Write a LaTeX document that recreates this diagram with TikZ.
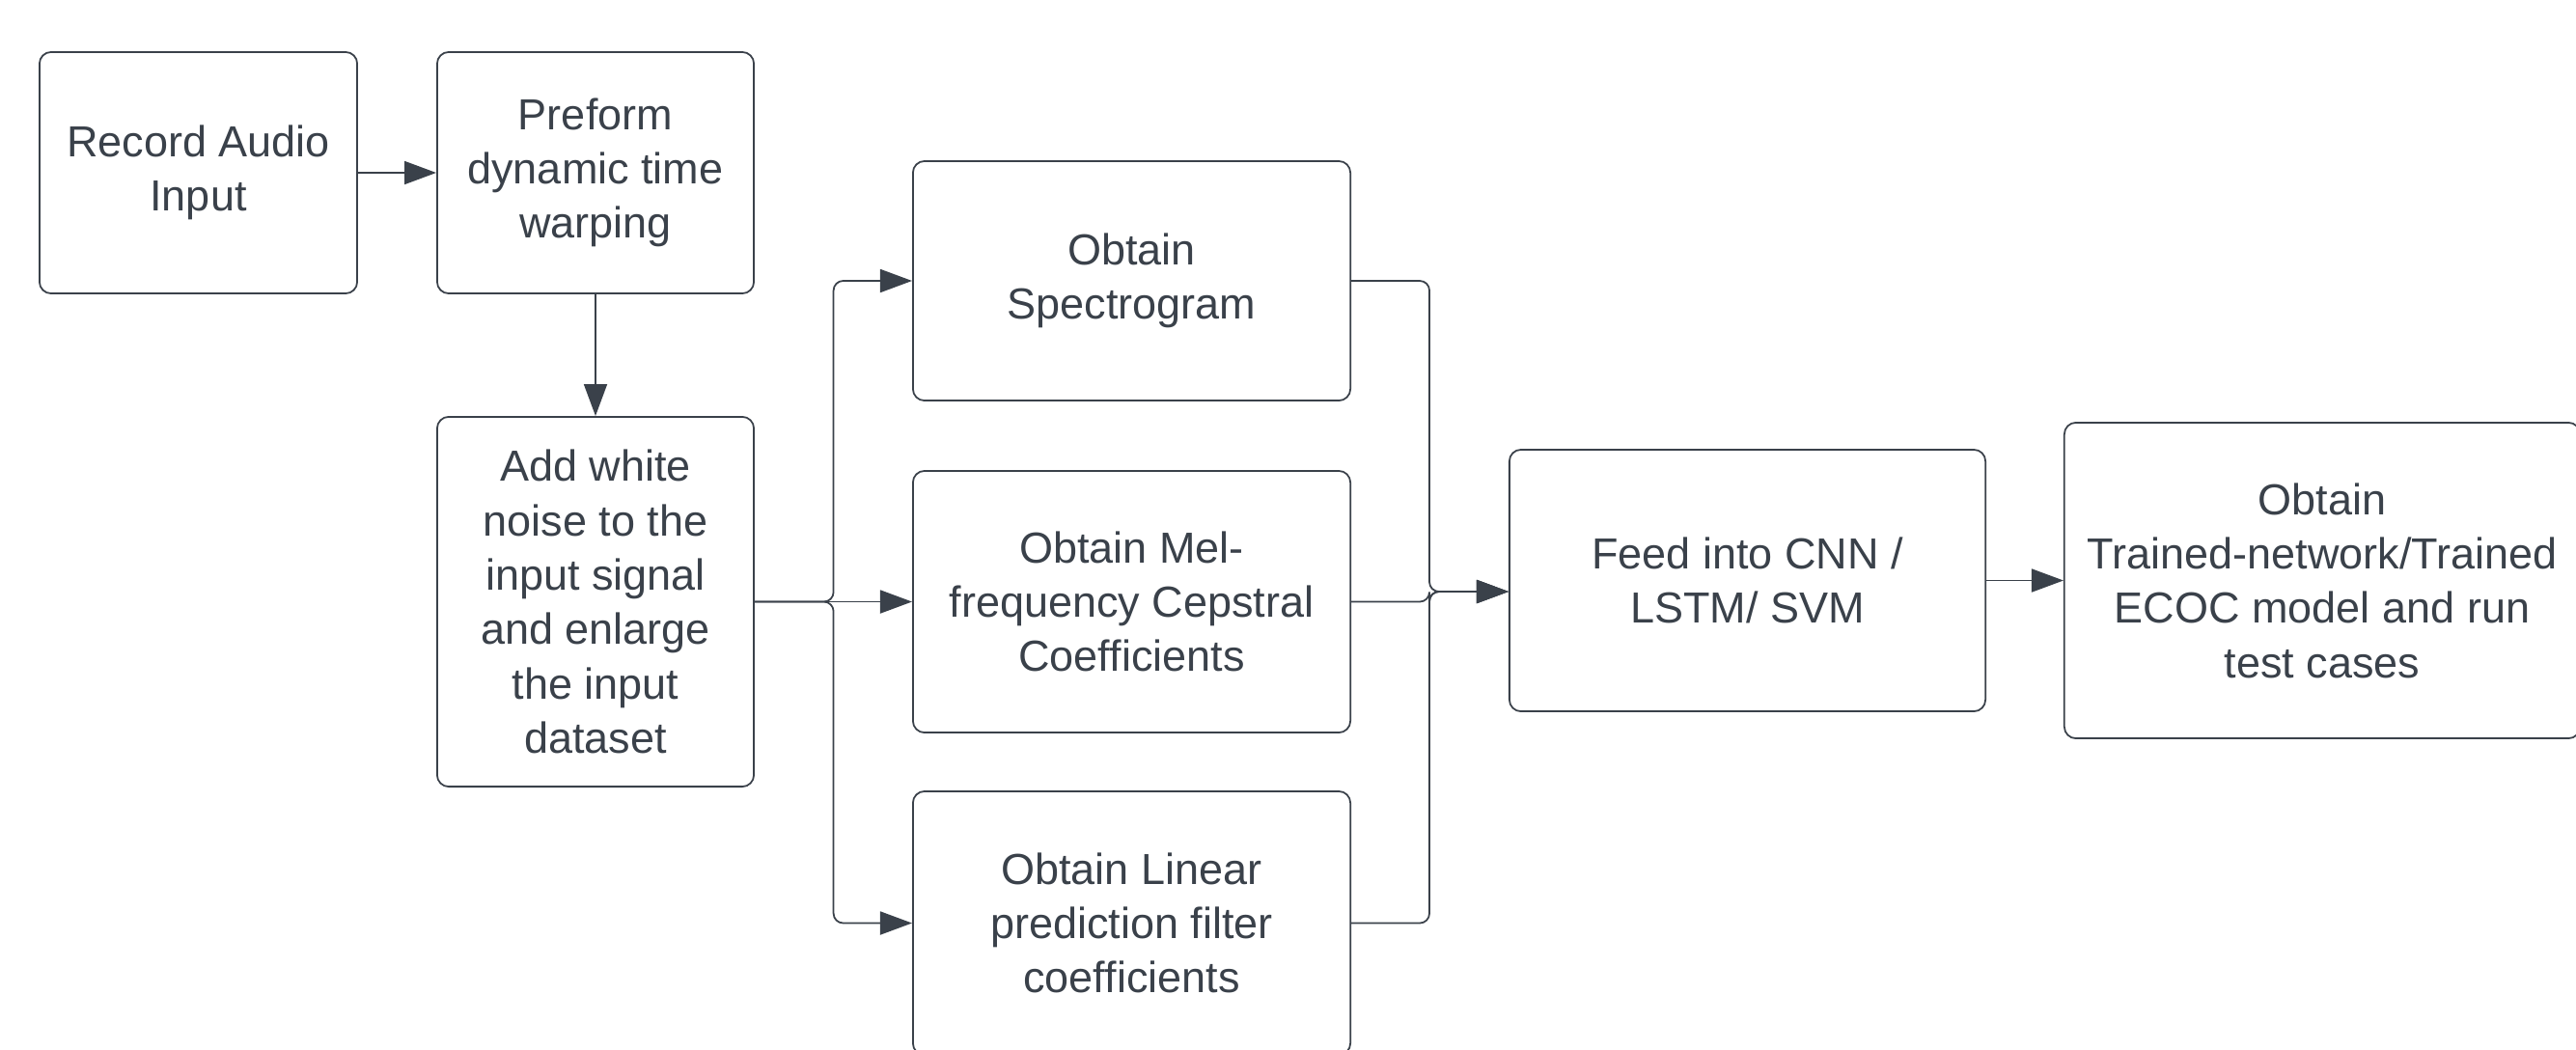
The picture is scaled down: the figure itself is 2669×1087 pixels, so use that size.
\documentclass[tikz,border=0pt]{standalone}
\usepackage{fontspec}
\setmainfont{Liberation Sans}
\usetikzlibrary{arrows.meta}
\definecolor{ink}{RGB}{58,65,74}
\begin{document}
\begin{tikzpicture}[x=0.01cm,y=-0.01cm,
  box/.style={draw=ink, line width=0.5pt, rounded corners=0.12cm, align=center,
    text=ink, inner sep=0pt, font=\fontsize{12.8}{16}\selectfont},
  arr/.style={draw=ink, line width=0.5pt, rounded corners=0.1cm,
    -{Triangle[length=0.33cm,width=0.24cm]}}]
\useasboundingbox (0,0) rectangle (2669,1087);
\clip (0,0) rectangle (2669,1087);
\node[box, minimum width=3.29cm, minimum height=2.50cm] (b1) at (205.5,179) {Record Audio\\Input};
\node[box, minimum width=3.28cm, minimum height=2.50cm] (b2) at (617,179) {Preform\\dynamic time\\warping};
\node[box, minimum width=3.28cm, minimum height=3.83cm] (b3) at (617,623.5) {Add white\\noise to the\\input signal\\and enlarge\\the input\\dataset};
\node[box, minimum width=4.53cm, minimum height=2.48cm] (b4) at (1172.5,291) {Obtain\\Spectrogram};
\node[box, minimum width=4.53cm, minimum height=2.71cm] (b5) at (1172.5,623.5) {Obtain Mel-\\frequency Cepstral\\Coefficients};
\node[box, minimum width=4.53cm, minimum height=2.73cm] (b6) at (1172.5,956.5) {Obtain Linear\\prediction filter\\coefficients};
\node[box, minimum width=4.93cm, minimum height=2.71cm] (b7) at (1810.5,601.5) {Feed into CNN /\\LSTM/ SVM};
\node[box, minimum width=5.34cm, minimum height=3.27cm] (b8) at (2406,601.5) {Obtain\\Trained-network/Trained\\ECOC model and run\\test cases};
\coordinate (j) at (863.6,623.5);
\coordinate (m) at (1481,613);
\draw[arr] (b1) -- (b2);
\draw[arr] (b2) -- (b3);
\draw[arr] (b3) -- (b5);
\draw[arr] (b3.east) -- (j) |- (b4.west);
\draw[arr] (b3.east) -- (j) |- (b6.west);
\draw[arr] (b4.east) -| (m) -- (b7.west |- m);
\draw[arr] (b5.east) -| (m) -- (b7.west |- m);
\draw[arr] (b6.east) -| (m) -- (b7.west |- m);
\draw[arr] (b7) -- (b8);
\end{tikzpicture}
\end{document}
